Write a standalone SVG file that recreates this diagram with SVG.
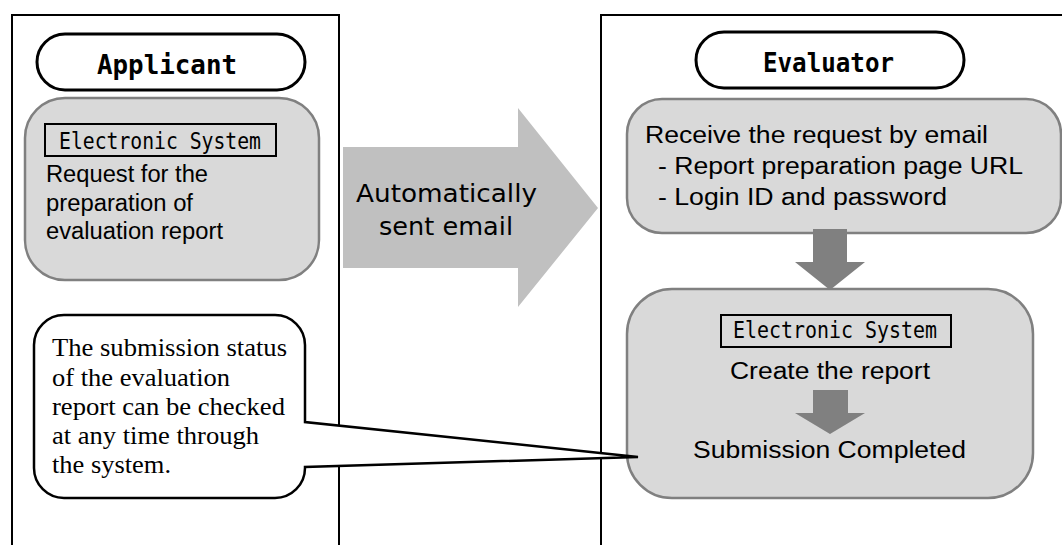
<svg xmlns="http://www.w3.org/2000/svg" width="1062" height="545" viewBox="0 0 1062 545">
  <style>
    .panel { fill: none; stroke: #000; stroke-width: 2; }
    .pill { fill: #fff; stroke: #000; stroke-width: 3; }
    .box { fill: #d9d9d9; stroke: #808080; stroke-width: 2.5; }
    .sys { fill: none; stroke: #000; stroke-width: 2; }
    .mono { font-family: "DejaVu Sans Mono", "Liberation Mono", monospace; fill: #000; }
    .sans { font-family: "Liberation Sans", Arial, sans-serif; font-size: 23px; fill: #000; }
    .serif { font-family: "Liberation Serif", "Times New Roman", serif; font-size: 26px; fill: #000; }
    .big { fill: #c0c0c0; }
    .down { fill: #808080; }
    .callout { fill: #fff; stroke: #000; stroke-width: 2.5; stroke-linejoin: miter; }
  </style>

  <g id="panels">
    <path class="panel" d="M12,545 V15 H339 V545"/>
    <path class="panel" d="M601,545 V15 H1062"/>
  </g>

  <g id="applicant-label">
    <rect class="pill" x="37" y="34" width="268" height="56" rx="28" ry="28"/>
    <text class="mono" x="97" y="74" font-size="27" font-weight="bold" textLength="140" lengthAdjust="spacingAndGlyphs">Applicant</text>
  </g>

  <g id="request-node">
    <rect class="box" x="25" y="98" width="294" height="182" rx="40" ry="40"/>
    <rect class="sys" x="45" y="124" width="231" height="32"/>
    <text class="mono" x="59" y="149" font-size="23" textLength="202" lengthAdjust="spacingAndGlyphs">Electronic System</text>
    <text class="sans" x="46" y="182" textLength="162" lengthAdjust="spacingAndGlyphs">Request for the</text>
    <text class="sans" x="46" y="210.5" textLength="147" lengthAdjust="spacingAndGlyphs">preparation of</text>
    <text class="sans" x="46" y="239" textLength="177" lengthAdjust="spacingAndGlyphs">evaluation report</text>
  </g>

  <g id="evaluator-label">
    <rect class="pill" x="696" y="32" width="268" height="56" rx="28" ry="28"/>
    <text class="mono" x="763" y="72" font-size="27" font-weight="bold" textLength="131" lengthAdjust="spacingAndGlyphs">Evaluator</text>
  </g>

  <g id="receive-node">
    <rect class="box" x="627" y="99" width="434" height="134" rx="35" ry="35"/>
    <text class="sans" x="645" y="143" textLength="343" lengthAdjust="spacingAndGlyphs">Receive the request by email</text>
    <text class="sans" x="658" y="174" textLength="365" lengthAdjust="spacingAndGlyphs">- Report preparation page URL</text>
    <text class="sans" x="658" y="205" textLength="289" lengthAdjust="spacingAndGlyphs">- Login ID and password</text>
  </g>

  <g id="create-node">
    <rect class="box" x="627" y="289" width="406" height="209" rx="45" ry="45"/>
    <rect class="sys" x="721" y="315" width="230" height="32"/>
    <text class="mono" x="733" y="338" font-size="23" textLength="204" lengthAdjust="spacingAndGlyphs">Electronic System</text>
    <text class="sans" x="730" y="379" textLength="200" lengthAdjust="spacingAndGlyphs">Create the report</text>
    <text class="sans" x="693" y="458" textLength="273" lengthAdjust="spacingAndGlyphs">Submission Completed</text>
  </g>

  <g id="connectors">
    <g id="email-arrow">
      <polygon class="big" points="343,147 518,147 518,108 598,208 518,307 518,268 343,268"/>
      <text font-family="DejaVu Sans, Liberation Sans, sans-serif" font-size="24" x="356" y="202" textLength="181" lengthAdjust="spacingAndGlyphs">Automatically</text>
      <text font-family="DejaVu Sans, Liberation Sans, sans-serif" font-size="24" x="379" y="235" textLength="134" lengthAdjust="spacingAndGlyphs">sent email</text>
    </g>
    <polygon id="down-arrow-1" class="down" points="813,229 847,229 847,262 865,262 830,290 795,262 813,262"/>
    <polygon id="down-arrow-2" class="down" points="813,390 848,390 848,413 865,413 830,434 795,413 813,413"/>
  </g>

  <g id="status-callout">
    <path class="callout" d="M64,315 H275 A30,30 0 0 1 305,345 V422 L638,457 L305,467 V468 A30,30 0 0 1 275,498 H64 A30,30 0 0 1 34,468 V345 A30,30 0 0 1 64,315 Z"/>
    <text class="serif" x="52" y="356" textLength="235" lengthAdjust="spacingAndGlyphs">The submission status</text>
    <text class="serif" x="52" y="385.5" textLength="178" lengthAdjust="spacingAndGlyphs">of the evaluation</text>
    <text class="serif" x="52" y="415" textLength="233" lengthAdjust="spacingAndGlyphs">report can be checked</text>
    <text class="serif" x="52" y="444" textLength="207" lengthAdjust="spacingAndGlyphs">at any time through</text>
    <text class="serif" x="52" y="473" textLength="119" lengthAdjust="spacingAndGlyphs">the system.</text>
  </g>
</svg>
